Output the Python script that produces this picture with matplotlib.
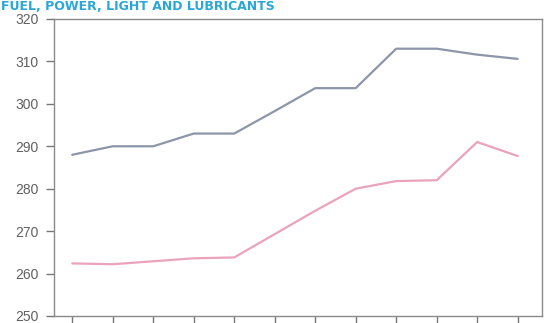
import matplotlib
matplotlib.use("Agg")
import matplotlib.pyplot as plt

plt.rcParams['font.family'] = ['Liberation Sans', 'DejaVu Sans']

periods = list(range(12))
series_grey = [288.0, 290.0, 290.0, 293.0, 293.0, 298.3, 303.7, 303.7, 313.0, 313.0, 311.6, 310.6]
series_pink = [262.4, 262.2, 262.9, 263.6, 263.8, 269.3, 274.8, 280.0, 281.8, 282.0, 291.0, 287.7]
yticks = [250, 260, 270, 280, 290, 300, 310, 320]
title = "FUEL, POWER, LIGHT AND LUBRICANTS"

fig = plt.figure(figsize=(5.44, 3.23), dpi=100)
ax = fig.add_axes([54/544, 1-316/323, (542-54)/544, (316-19)/323])

ax.plot(periods, series_grey, color='#8c96a8', lw=1.6, solid_capstyle='round')
ax.plot(periods, series_pink, color='#eaa3ba', lw=1.6, solid_capstyle='round')

ax.set_xlim(-0.45, 11.6)
ax.set_ylim(250, 320)
ax.set_yticks(yticks)
ax.set_yticklabels([str(v) for v in yticks], fontsize=10, color='#606060')
ax.set_xticks(periods)
ax.set_xticklabels([])
ax.tick_params(axis='y', direction='out', length=6, width=1, color='#777777', pad=5)
ax.tick_params(axis='x', direction='out', length=5, width=1, color='#777777')
for s in ax.spines.values():
    s.set_color('#8a8a8a')
    s.set_linewidth(1.0)

fig.text(0.002, 1.0, title, fontsize=9, fontweight='bold', color='#2aa7d6',
         ha='left', va='top', family=['DejaVu Sans'])

fig.savefig('out.png', dpi=100)
